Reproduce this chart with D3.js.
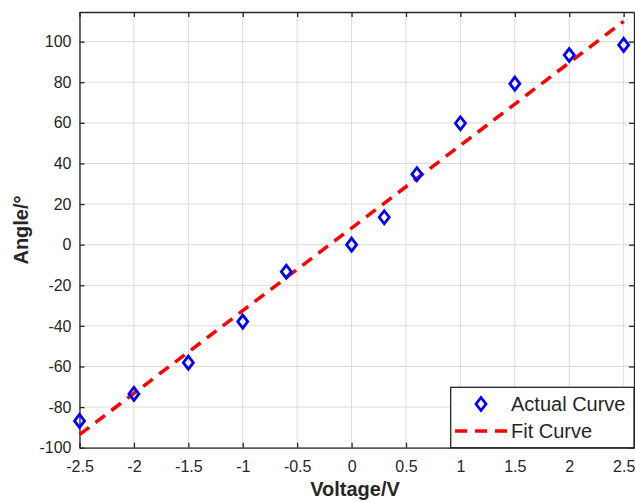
<!DOCTYPE html>
<html><head><meta charset="utf-8">
<script src="https://cdn.jsdelivr.net/npm/d3@7"></script>
<style>body{margin:0;background:#fff;} svg{display:block;font-family:"Liberation Sans",Arial,sans-serif;}</style>
</head><body>
<script>
const voltage = [-2.5, -2, -1.5, -1, -0.6, 0, 0.3, 0.6, 1, 1.5, 2, 2.5];
const angle = [-86.8, -73.5, -58.1, -37.9, -13.3, 0, 13.5, 34.7, 59.8, 79.3, 93.4, 98.4];
const fitVoltage = [-2.5, 2.5];
const fitAngle = [-93.6, 110.0];
const xTicks = [-2.5, -2, -1.5, -1, -0.5, 0, 0.5, 1, 1.5, 2, 2.5];
const yTicks = [-100, -80, -60, -40, -20, 0, 20, 40, 60, 80, 100];
const seriesNames = ["Actual Curve", "Fit Curve"];

const W = 635, H = 502;
const m = {l: 79.5, r: 1, t: 12, b: 54.3};
const svg = d3.select("body").append("svg").attr("width", W).attr("height", H);
const x = d3.scaleLinear().domain([-2.5, 2.595]).range([m.l, W - m.r]);
const y = d3.scaleLinear().domain([-100, 114.6]).range([H - m.b, m.t]);
const x0 = m.l, x1 = W - m.r, y0 = H - m.b, y1 = m.t;

// grid
const g = svg.append("g");
g.selectAll(".gx").data(xTicks).join("line")
  .attr("x1", d => x(d)).attr("x2", d => x(d)).attr("y1", y0).attr("y2", y1)
  .attr("stroke", "#dcdcdc").attr("stroke-width", 1);
g.selectAll(".gy").data(yTicks).join("line")
  .attr("y1", d => y(d)).attr("y2", d => y(d)).attr("x1", x0).attr("x2", x1)
  .attr("stroke", "#dcdcdc").attr("stroke-width", 1);

// axes
const axCol = "#262626";
const xb = svg.append("g").attr("transform", `translate(0,${y0})`)
  .call(d3.axisBottom(x).tickValues(xTicks).tickSizeInner(-5).tickSizeOuter(0).tickPadding(13).tickFormat(d => String(d)));
const xt = svg.append("g").attr("transform", `translate(0,${y1})`)
  .call(d3.axisTop(x).tickValues(xTicks).tickSizeInner(-5).tickSizeOuter(0).tickFormat(""));
const yl = svg.append("g").attr("transform", `translate(${x0},0)`)
  .call(d3.axisLeft(y).tickValues(yTicks).tickSizeInner(-5).tickSizeOuter(0).tickPadding(8).tickFormat(d => String(d)));
const yr = svg.append("g").attr("transform", `translate(${x1},0)`)
  .call(d3.axisRight(y).tickValues(yTicks).tickSizeInner(-5).tickSizeOuter(0).tickFormat(""));
[xb, xt, yl, yr].forEach(a => {
  a.select(".domain").attr("stroke", axCol).attr("stroke-width", 1.3);
  a.selectAll(".tick line").attr("stroke", axCol).attr("stroke-width", 1.3);
  a.selectAll(".tick text").attr("fill", "#262626").attr("font-size", 16)
    .attr("font-family", "'Liberation Sans', Arial, sans-serif");
});

// fit line
const line = d3.line().x(d => x(d[0])).y(d => y(d[1]));
svg.append("path").datum(fitVoltage.map((v, i) => [v, fitAngle[i]]))
  .attr("d", line).attr("fill", "none").attr("stroke", "#ff0000")
  .attr("stroke-width", 3.5).attr("stroke-dasharray", "12,8");

// markers
const diamond = (cx, cy) => `M${cx},${cy-6.5}L${cx+5},${cy}L${cx},${cy+6.5}L${cx-5},${cy}Z`;
svg.append("g").selectAll("path").data(voltage.map((v, i) => [v, angle[i]])).join("path")
  .attr("d", d => diamond(x(d[0]), y(d[1])))
  .attr("fill", "none").attr("stroke", "#0000ff").attr("stroke-width", 2.8);

// labels
svg.append("text").attr("x", 355).attr("y", 496).attr("text-anchor", "middle")
  .attr("font-size", 20).attr("font-weight", "bold").attr("fill", "#262626").text("Voltage/V");
svg.append("text").attr("transform", `translate(28,230) rotate(-90)`).attr("text-anchor", "middle")
  .attr("font-size", 20).attr("font-weight", "bold").attr("fill", "#262626").text("Angle/°");

// legend
const lg = svg.append("g");
lg.append("rect").attr("x", 450.7).attr("y", 387.3).attr("width", x1 - 450.7).attr("height", y0 - 387.3)
  .attr("fill", "#fff").attr("stroke", axCol).attr("stroke-width", 1.3);
lg.append("path").attr("d", diamond(481, 404)).attr("fill", "none").attr("stroke", "#0000ff").attr("stroke-width", 2.8);
lg.append("line").attr("x1", 455).attr("x2", 507).attr("y1", 431).attr("y2", 431)
  .attr("stroke", "#ff0000").attr("stroke-width", 3.5).attr("stroke-dasharray", "12,8");
lg.append("text").attr("x", 511).attr("y", 411).attr("font-size", 20).attr("fill", "#262626").text(seriesNames[0]);
lg.append("text").attr("x", 511).attr("y", 437.5).attr("font-size", 20).attr("fill", "#262626").text(seriesNames[1]);
</script>
</body></html>
